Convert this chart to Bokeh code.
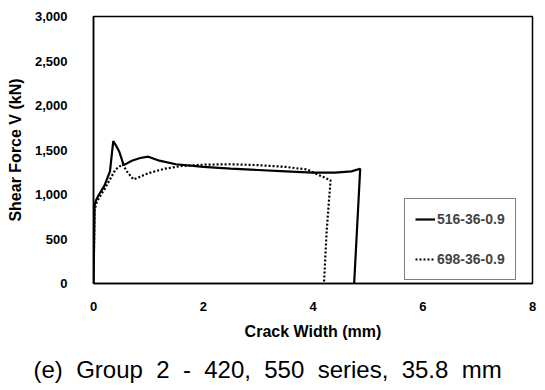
from bokeh.plotting import figure
from bokeh.models import Legend, LegendItem, Title, NumeralTickFormatter, FixedTicker
from bokeh.embed import file_html
from bokeh.resources import INLINE

# Series 516-36-0.9 (solid)
x_516 = [0.0, 0.02, 0.05, 0.1, 0.2, 0.3, 0.36, 0.42, 0.47, 0.55, 0.7, 0.85, 1.0, 1.2, 1.5, 2.0, 2.5, 3.0, 3.5, 4.0, 4.4, 4.7, 4.86, 4.75]
v_516 = [0, 880, 940, 1000, 1100, 1260, 1600, 1540, 1480, 1330, 1380, 1410, 1425, 1380, 1340, 1310, 1290, 1275, 1260, 1245, 1245, 1260, 1290, 0]

# Series 698-36-0.9 (dotted)
x_698 = [0.0, 0.02, 0.05, 0.1, 0.2, 0.3, 0.4, 0.53, 0.62, 0.73, 0.85, 1.0, 1.3, 1.6, 2.0, 2.5, 3.0, 3.5, 3.9, 4.1, 4.32, 4.25, 4.2]
v_698 = [0, 820, 900, 960, 1060, 1170, 1280, 1340, 1250, 1170, 1200, 1240, 1290, 1320, 1335, 1340, 1330, 1310, 1280, 1220, 1160, 600, 0]

x_ticks = [0, 2, 4, 6, 8]
y_ticks = [0, 500, 1000, 1500, 2000, 2500, 3000]

p = figure(frame_width=439, frame_height=267, x_range=(0, 8), y_range=(0, 3000),
           output_backend="svg", toolbar_location=None,
           min_border_left=93, min_border_right=5, min_border_top=16, min_border_bottom=40)
p.grid.visible = False
p.outline_line_color = "black"
p.outline_line_width = 1.5

for ax in (p.xaxis[0], p.yaxis[0]):
    ax.axis_line_color = "black"
    ax.axis_line_width = 1.5
    ax.major_tick_line_color = None
    ax.minor_tick_line_color = None
    ax.major_label_text_font = "Liberation Sans"
    ax.major_label_text_font_style = "bold"
    ax.major_label_text_font_size = "13px"
    ax.major_label_text_color = "black"
    ax.axis_label_text_font = "Liberation Sans"
    ax.axis_label_text_font_style = "bold"
    ax.axis_label_text_font_size = "16px"
    ax.axis_label_text_color = "black"

p.xaxis.ticker = FixedTicker(ticks=x_ticks)
p.yaxis.ticker = FixedTicker(ticks=y_ticks)
p.yaxis.formatter = NumeralTickFormatter(format="0,0")
p.xaxis.axis_label = "Crack Width (mm)"
p.yaxis.axis_label = "Shear Force V (kN)"
p.xaxis.major_label_standoff = 12
p.yaxis.major_label_standoff = 20
p.xaxis.axis_label_standoff = 9
p.yaxis.axis_label_standoff = 8

r1 = p.line(x_516, v_516, line_color="black", line_width=2.2)
r2 = p.line(x_698, v_698, line_color="black", line_width=2.2, line_dash="2 2")

legend = Legend(items=[LegendItem(label="516-36-0.9", renderers=[r1]),
                       LegendItem(label="698-36-0.9", renderers=[r2])],
                location=(311, 3), border_line_color="black", border_line_width=1.2,
                label_text_font="Liberation Sans", label_text_font_style="bold",
                label_text_font_size="14px", glyph_width=20, spacing=20,
                padding=10, margin=0, label_standoff=2)
p.add_layout(legend, "center")

sp = "\u00a0 "
caption_text = sp.join(["(e)", "Group", "2", "-", "420,", "550", "series,", "35.8", "mm"])
cap = Title(text=caption_text, align="left", offset=-60,
            text_font="Liberation Sans", text_font_size="24px", text_font_style="normal",
            text_color="black", standoff=22)
p.add_layout(cap, "below")

open("out.html", "w").write(file_html(p, INLINE))
